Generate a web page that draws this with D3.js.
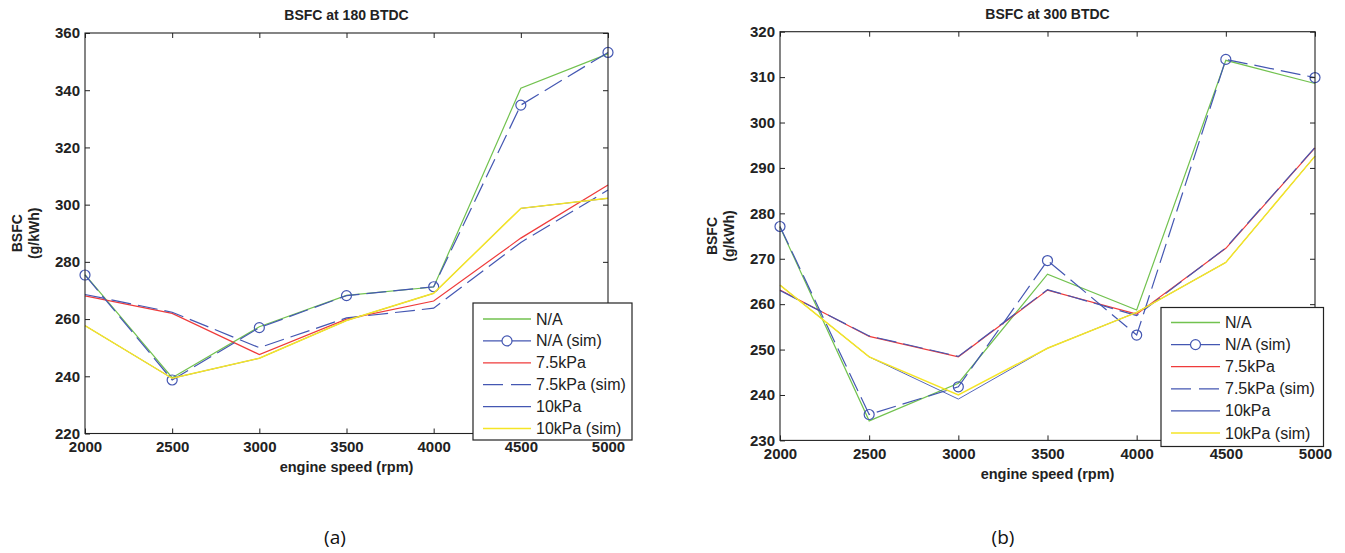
<!DOCTYPE html>
<html>
<head>
<meta charset="utf-8">
<script src="https://cdn.jsdelivr.net/npm/d3@7"></script>
<style>
  html, body { margin: 0; padding: 0; background: #fff; }
  svg { display: block; }
</style>
</head>
<body>
<svg id="fig" width="1345" height="553"></svg>
<script>
// Engine speed categories and tick labels
const speeds = [2000, 2500, 3000, 3500, 4000, 4500, 5000];
const xTickValues = [2000, 2500, 3000, 3500, 4000, 4500, 5000];
const yTicksA = [220, 240, 260, 280, 300, 320, 340, 360];
const yTicksB = [230, 240, 250, 260, 270, 280, 290, 300, 310, 320];

// BSFC (g/kWh) at 180 BTDC
const naMeasA   = [275.5, 239.5, 257.3, 268.3, 271.2, 340.7, 352.7];
const naSimA    = [275.4, 238.7, 257.0, 268.2, 271.3, 334.8, 353.2];
const kpa75MeasA = [268.1, 262.0, 247.6, 260.0, 266.3, 288.3, 306.9];
const kpa75SimA  = [268.6, 262.4, 250.0, 260.4, 263.8, 286.8, 305.1];
const kpa10MeasA = [257.7, 239.3, 246.3, 259.5, 269.0, 298.7, 302.2];
const kpa10SimA  = [257.7, 239.3, 246.3, 259.5, 269.0, 298.7, 302.2];

// BSFC (g/kWh) at 300 BTDC
const naMeasB   = [277.0, 234.3, 242.6, 266.6, 258.7, 313.7, 308.6];
const naSimB    = [277.1, 235.7, 241.8, 269.6, 253.2, 313.9, 309.9];
const kpa75MeasB = [263.1, 252.9, 248.4, 263.1, 257.8, 272.3, 294.4];
const kpa75SimB  = [263.0, 253.0, 248.5, 263.2, 257.5, 272.4, 294.5];
const kpa10MeasB = [264.2, 248.4, 239.1, 250.3, 258.2, 269.2, 292.6];
const kpa10SimB  = [264.2, 248.4, 240.0, 250.3, 258.2, 269.2, 292.6];

const legendLabels = ["N/A", "N/A (sim)", "7.5kPa", "7.5kPa (sim)", "10kPa", "10kPa (sim)"];

const GREEN = "#72c24f", BLUE = "#4457b2", RED = "#ef3b3b", YELLOW = "#f5e526";

// series styles, in legend order
const styles = [
  { color: GREEN,  width: 1.2, dash: null,   legendDash: null,   marker: false },
  { color: BLUE,   width: 1.2, dash: "20,7", legendDash: null,   marker: true  },
  { color: RED,    width: 1.2, dash: null,   legendDash: null,   marker: false },
  { color: BLUE,   width: 1.2, dash: "20,7", legendDash: "20,8", marker: false },
  { color: BLUE,   width: 0.9, dash: null,   legendDash: null,   marker: false },
  { color: YELLOW, width: 1.5, dash: null,   legendDash: null,   marker: false }
];
// drawing order (bottom to top)
const drawOrder = [0, 2, 4, 3, 1, 5];

const panels = [
  {
    title: "BSFC at 180 BTDC", tag: "(a)", tagX: 335,
    x0: 85, x1: 608, yTop: 33, yBot: 433.5, xLabelY: 467,
    yDomain: [220, 360], yTicks: yTicksA,
    series: [naMeasA, naSimA, kpa75MeasA, kpa75SimA, kpa10MeasA, kpa10SimA],
    legend: { x: 473, y: 303, w: 159, h: 137, rowY0: 16, rowStep: 21.9, lx0: 10, lx1: 58, tx: 63 }
  },
  {
    title: "BSFC at 300 BTDC", tag: "(b)", tagX: 1003,
    x0: 780, x1: 1315, yTop: 31.7, yBot: 440.4, xLabelY: 474,
    yDomain: [230, 320], yTicks: yTicksB,
    series: [naMeasB, naSimB, kpa75MeasB, kpa75SimB, kpa10MeasB, kpa10SimB],
    legend: { x: 1161, y: 307.5, w: 162.5, h: 139, rowY0: 15, rowStep: 22.1, lx0: 10, lx1: 59, tx: 64 }
  }
];

const svg = d3.select("#fig");
svg.append("rect").attr("width", 1345).attr("height", 553).attr("fill", "#fff");

const FONT = "'Liberation Sans', Arial, Helvetica, sans-serif";
const INK = "#222";

panels.forEach(p => {
  const x = d3.scaleLinear().domain([2000, 5000]).range([p.x0, p.x1]);
  const y = d3.scaleLinear().domain(p.yDomain).range([p.yBot, p.yTop]);
  const g = svg.append("g");

  // data lines
  const line = d3.line().x((d, i) => x(speeds[i])).y(d => y(d));
  drawOrder.forEach(si => {
    const st = styles[si];
    const vals = p.series[si];
    g.append("path")
      .datum(vals)
      .attr("d", line)
      .attr("fill", "none")
      .attr("stroke", st.color)
      .attr("stroke-width", st.width)
      .attr("stroke-dasharray", st.dash)
      .attr("stroke-linejoin", "miter");
    if (st.marker) {
      g.selectAll(null).data(vals).enter().append("circle")
        .attr("cx", (d, i) => x(speeds[i]))
        .attr("cy", d => y(d))
        .attr("r", 5)
        .attr("fill", "none")
        .attr("stroke", st.color)
        .attr("stroke-width", 1.2);
    }
  });

  // axes with inward ticks on all four sides
  const styleAxis = sel => {
    sel.select(".domain").remove();
    sel.selectAll(".tick line").attr("stroke", INK).attr("stroke-width", 1);
    sel.selectAll(".tick text")
      .attr("fill", INK)
      .style("font-family", FONT)
      .style("font-weight", "bold")
      .style("font-size", "15px");
  };
  g.append("g").attr("transform", `translate(0,${p.yBot})`)
    .call(d3.axisBottom(x).tickValues(xTickValues).tickFormat(d3.format("d"))
      .tickSizeInner(-5).tickSizeOuter(0).tickPadding(8))
    .call(styleAxis);
  g.append("g").attr("transform", `translate(0,${p.yTop})`)
    .call(d3.axisTop(x).tickValues(xTickValues).tickFormat("")
      .tickSizeInner(-5).tickSizeOuter(0))
    .call(styleAxis);
  g.append("g").attr("transform", `translate(${p.x0},0)`)
    .call(d3.axisLeft(y).tickValues(p.yTicks).tickFormat(d3.format("d"))
      .tickSizeInner(-5).tickSizeOuter(0).tickPadding(5))
    .call(styleAxis);
  g.append("g").attr("transform", `translate(${p.x1},0)`)
    .call(d3.axisRight(y).tickValues(p.yTicks).tickFormat("")
      .tickSizeInner(-5).tickSizeOuter(0))
    .call(styleAxis);

  // plot frame
  g.append("rect")
    .attr("x", p.x0).attr("y", p.yTop)
    .attr("width", p.x1 - p.x0).attr("height", p.yBot - p.yTop)
    .attr("fill", "none").attr("stroke", INK).attr("stroke-width", 1.1);

  const cx = (p.x0 + p.x1) / 2;
  const cy = (p.yTop + p.yBot) / 2;

  // title
  g.append("text")
    .attr("x", cx).attr("y", p.yTop - 18)
    .attr("text-anchor", "middle").attr("dominant-baseline", "central")
    .attr("fill", INK)
    .style("font-family", FONT).style("font-size", "14px").style("font-weight", "bold")
    .text(p.title);

  // x label
  g.append("text")
    .attr("x", cx).attr("y", p.xLabelY)
    .attr("text-anchor", "middle").attr("dominant-baseline", "central")
    .attr("fill", INK)
    .style("font-family", FONT).style("font-size", "14.5px").style("font-weight", "bold")
    .text("engine speed (rpm)");

  // y label (two lines)
  [["BSFC", -68], ["(g/kWh)", -51]].forEach(([t, dx]) => {
    g.append("text")
      .attr("transform", `translate(${p.x0 + dx},${cy}) rotate(-90)`)
      .attr("text-anchor", "middle").attr("dominant-baseline", "central")
      .attr("fill", INK)
      .style("font-family", FONT).style("font-size", "14px").style("font-weight", "bold")
      .text(t);
  });

  // legend
  const L = p.legend;
  const lg = g.append("g").attr("transform", `translate(${L.x},${L.y})`);
  lg.append("rect").attr("width", L.w).attr("height", L.h)
    .attr("fill", "#fff").attr("stroke", INK).attr("stroke-width", 1.2);
  legendLabels.forEach((lab, i) => {
    const st = styles[i];
    const ry = L.rowY0 + i * L.rowStep;
    lg.append("line")
      .attr("x1", L.lx0).attr("x2", L.lx1).attr("y1", ry).attr("y2", ry)
      .attr("stroke", st.color).attr("stroke-width", 1.3)
      .attr("stroke-dasharray", st.legendDash);
    if (st.marker) {
      lg.append("circle").attr("cx", (L.lx0 + L.lx1) / 2).attr("cy", ry).attr("r", 5)
        .attr("fill", "#fff").attr("stroke", st.color).attr("stroke-width", 1.2);
    }
    lg.append("text")
      .attr("x", L.tx).attr("y", ry)
      .attr("dominant-baseline", "central")
      .attr("fill", INK)
      .style("font-family", FONT).style("font-size", "16px")
      .text(lab);
  });

  // panel tag
  svg.append("text")
    .attr("x", p.tagX).attr("y", 537)
    .attr("text-anchor", "middle").attr("dominant-baseline", "central")
    .attr("fill", "#111")
    .style("font-family", "'Open Sans', 'Noto Sans', sans-serif").style("font-size", "19px")
    .text(p.tag);
});
</script>
</body>
</html>
